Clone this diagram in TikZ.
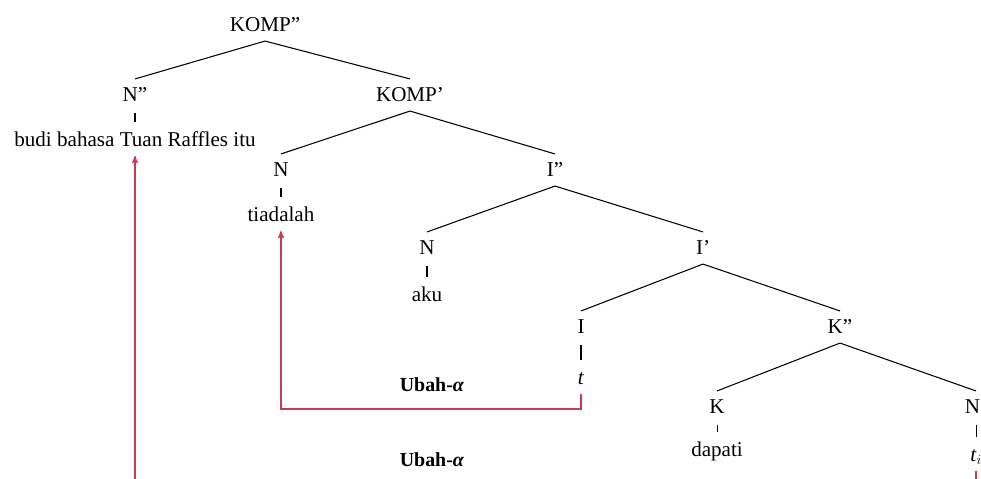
\documentclass[tikz,border=0pt]{standalone}
\usepackage{fontspec}
\setmainfont{Liberation Serif}
\usepackage{xcolor}
\usetikzlibrary{arrows,positioning}
\definecolor{movered}{RGB}{200,60,80}
\tikzset{>=stealth'}
\tikzset{cat node/.style={inner sep=7pt,text height=12pt,text depth=1pt,font=\fontsize{18}{20}\selectfont},
            move label/.style={font=\fontsize{17}{19}\selectfont\bfseries},
            branch/.style={line width=0.9pt},
            move line/.style={draw=movered,line width=1.1pt,->},
            }

\begin{document}
\begin{tikzpicture}[x=0.03cm,y=-0.03cm,on grid]
    \useasboundingbox (0,0) rectangle (981,479);

    \node[cat node] (kompdd) at (265,25) {KOMP”};
    \node[cat node] (ndd) [below left = 2.1cm and 3.9cm of kompdd] {N”};
    \node[cat node] (kompd) [below right = 2.1cm and 4.35cm of kompdd] {KOMP’};
    \node[cat node] (budi) [below = 1.35cm of ndd] {budi bahasa Tuan Raffles itu};
    \node[cat node] (n1) [below left = 2.25cm and 3.87cm of kompd] {N};
    \node[cat node] (idd) [below right = 2.25cm and 4.35cm of kompd] {I”};
    \node[cat node] (tiada) [below = 1.35cm of n1] {tiadalah};
    \node[cat node] (n2) [below left = 2.34cm and 3.84cm of idd] {N};
    \node[cat node] (id) [below right = 2.34cm and 4.44cm of idd] {I’};
    \node[cat node] (aku) [below = 1.41cm of n2] {aku};
    \node[cat node] (i) [below left = 2.37cm and 3.66cm of id] {I};
    \node[cat node] (kdd) [below right = 2.37cm and 4.11cm of id] {K”};
    \node[cat node] (t) [below = 1.53cm of i] {\textit{t}};
    \node[cat node] (k) [below left = 2.4cm and 3.69cm of kdd] {K};
    \node[cat node] (nd) [below right = 2.4cm and 4.08cm of kdd] {N’};
    \node[cat node] (dapati) [below = 1.29cm of k] {dapati};
    \node[cat node] (ti) [below = 1.44cm of nd] {\textit{t}$_i$};

    \node[move label] (ubah1) at (432,385) {Ubah-\textit{α}};
    \node[move label] (ubah2) at (432,460) {Ubah-\textit{α}};

    \path[draw,branch]
    (kompdd.south) edge (ndd.north)
    (kompdd.south) edge (kompd.north)
    (kompd.south) edge (n1.north)
    (kompd.south) edge (idd.north)
    (idd.south) edge (n2.north)
    (idd.south) edge (id.north)
    (id.south) edge (i.north)
    (id.south) edge (kdd.north)
    (kdd.south) edge (k.north)
    (kdd.south) edge (nd.north);

    \path[draw,branch,shorten <=2pt,shorten >=2pt]
    (ndd) edge (budi)
    (n1) edge (tiada)
    (n2) edge (aku)
    (i) edge (t)
    (k) edge (dapati)
    (nd) edge (ti);

    \draw[move line] (t.south) -- (t.south |- 0,409) -| (tiada.south);
    \draw[move line] (ti.south) -- (ti.south |- 0,482) -| (budi.south);

\end{tikzpicture}
\end{document}
